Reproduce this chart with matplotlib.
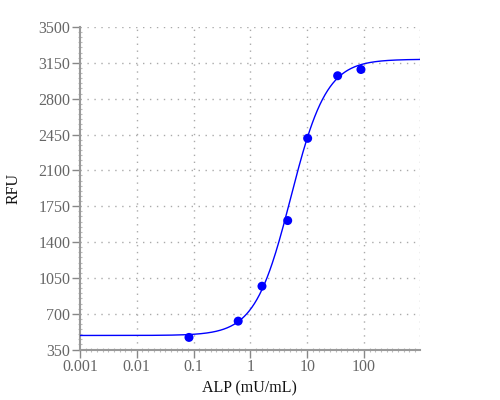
import numpy as np
import matplotlib
matplotlib.use("Agg")
import matplotlib.pyplot as plt
from matplotlib.ticker import FixedLocator, MultipleLocator, NullFormatter

# measured standards
alp = [0.083, 0.61, 1.6, 4.54, 10.2, 34.4, 88.5]
rfu = [469, 628, 969, 1610, 2413, 3024, 3085]

# 4PL fit parameters
bottom, top, ec50, hill = 488, 3185, 5.15, 1.38

x_ticks = [0.001, 0.01, 0.1, 1, 10, 100]
x_labels = ["0.001", "0.01", "0.1", "1", "10", "100"]
y_ticks = [350, 700, 1050, 1400, 1750, 2100, 2450, 2800, 3150, 3500]
xmin, xmax = 0.001, 950

plt.rcParams['font.family'] = ['Liberation Serif', 'DejaVu Serif']

fig = plt.figure(figsize=(5, 4), dpi=100)
ax = fig.add_axes([0.16, 0.126, 0.679, 0.8065])

xc = np.logspace(np.log10(xmin), np.log10(xmax), 400)
yc = bottom + (top - bottom) / (1 + (ec50 / xc) ** hill)
ax.plot(xc, yc, color='#0000ff', lw=1.0, zorder=3)
ax.scatter(alp, rfu, s=42, color='#0000ff', zorder=4, edgecolors='none')

ax.set_xscale('log')
ax.set_xlim(xmin, xmax)
ax.set_ylim(350, 3500)

ax.xaxis.set_major_locator(FixedLocator(x_ticks))
ax.set_xticklabels(x_labels)
minor_x = [10 ** v for v in np.arange(-3, np.log10(xmax), 0.1)]
ax.xaxis.set_minor_locator(FixedLocator(minor_x))
ax.xaxis.set_minor_formatter(NullFormatter())
ax.set_yticks(y_ticks)
ax.yaxis.set_minor_locator(MultipleLocator(50))

# grid
for xv in x_ticks[1:] + [xmax]:
    ax.axvline(xv, color='#aaaaaa', lw=1.0, ls=(0, (1, 4)), zorder=1)
for yv in y_ticks[1:]:
    ax.axhline(yv, color='#aaaaaa', lw=1.0, ls=(0, (1, 4)), zorder=1)

for s in ['top', 'right']:
    ax.spines[s].set_visible(False)
for s in ['left', 'bottom']:
    ax.spines[s].set_color('#999999')
    ax.spines[s].set_linewidth(1.5)

ax.tick_params(which='major', length=6, width=1, color='#888888',
               labelcolor='#666666', labelsize=11.5, pad=1)
ax.tick_params(which='minor', length=3, width=0.8, color='#bbbbbb', direction='inout')

ax.set_xlabel('ALP (mU/mL)', fontsize=11.5, color='#111111', labelpad=4)
ax.set_ylabel('RFU', fontsize=11.5, color='#111111', labelpad=12)

fig.savefig('out.png', dpi=100)
